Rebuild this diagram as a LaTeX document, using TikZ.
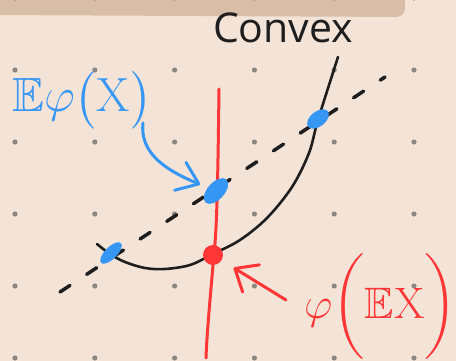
\RequirePackage{fix-cm}
\documentclass[tikz,border=0pt]{standalone}
\usepackage{amsmath,amssymb}
\usepackage{fontspec}
\setsansfont{Open Sans}
\usepackage{tikz}
\usetikzlibrary{arrows.meta, positioning, shapes.geometric, calc}
\usepackage{xcolor}
\definecolor{paper}{RGB}{244,228,216}
\definecolor{band}{RGB}{216,190,167}
\definecolor{griddot}{RGB}{140,134,128}
\definecolor{inkblue}{RGB}{53,150,244}
\definecolor{inkred}{RGB}{254,54,54}
\definecolor{ink}{RGB}{30,30,30}
\tikzset{
  pen/.style={line width=3pt, line cap=round, line join=round},
  dashline/.style={pen, ink, line width=3.5pt, dash pattern=on 12pt off 20pt},
  bluedot/.style={ellipse, fill=inkblue, inner sep=0pt},
  reddot/.style={circle, fill=inkred, inner sep=0pt, minimum size=20pt},
  handarrow/.style={pen, -{Straight Barb[round]}}
}

\begin{document}
\begin{tikzpicture}[x=1pt, y=-1pt]
    \fill[paper] (0,0) rectangle (456,361);
    \useasboundingbox (0,0) rectangle (456,361);
    \fill[band, rounded corners=9pt] (-12,-12) -- (405,-12) -- (405,17) -- (-12,15) -- cycle;
    \foreach \i in {0,...,5}
      \foreach \j in {0,...,5}
        \fill[griddot] (15+79.8*\i, -2+72*\j) circle (2.6pt);

    \coordinate (dstart) at (60,292);
    \coordinate (dend) at (385,77);
    \draw[dashline] (dstart) -- (dend);

    \draw[pen, ink, line width=2.6pt] plot[smooth, tension=0.55] coordinates {
      (97,244) (110,254) (125,262) (145,268) (165,269) (190,265) (213,254)
      (240,240) (267,218) (292,187) (309,153) (318,120) (338,57)};

    \draw[pen, inkred] (219,89) .. controls (218,170) and (217,230) .. (214,253)
      .. controls (211,290) and (207,330) .. (206,358);

    \node[bluedot, minimum width=28pt, minimum height=12pt, rotate=45] (bleft) at (111,253) {};
    \node[bluedot, minimum width=31pt, minimum height=17pt, rotate=48] (bmid) at (216,191) {};
    \node[bluedot, minimum width=25pt, minimum height=15pt, rotate=38] (bright) at (318,119) {};
    \node[reddot] (pdot) at (213,255) {};

    \node[text=ink, font=\sffamily\fontsize{41}{41}\selectfont, anchor=base] (convex) at (283,43) {Convex};
    \node[text=inkblue, font=\fontsize{48}{48}\selectfont, anchor=base west, inner sep=0pt] (ephi)
      at (12,112) {$\mathbb{E}\varphi\bigl(\mathrm{X}\bigr)$};
    \node[text=inkred, font=\fontsize{44}{44}\selectfont, anchor=base west, inner sep=0pt] (phie)
      at (304,318) {$\varphi\biggl(\mathbb{E}\mathrm{X}\biggr)$};

    \coordinate (bstart) at (143,123);
    \draw[handarrow, inkblue, -{Straight Barb[round, length=20pt, width=30pt]}, shorten >=8pt]
      (bstart) .. controls (140,150) and (160,168) .. (bmid);
    \coordinate (rstart) at (286,300);
    \draw[handarrow, inkred, -{Straight Barb[round, length=19pt, width=32pt]}, shorten >=14pt]
      (rstart) -- (pdot);
\end{tikzpicture}
\end{document}
